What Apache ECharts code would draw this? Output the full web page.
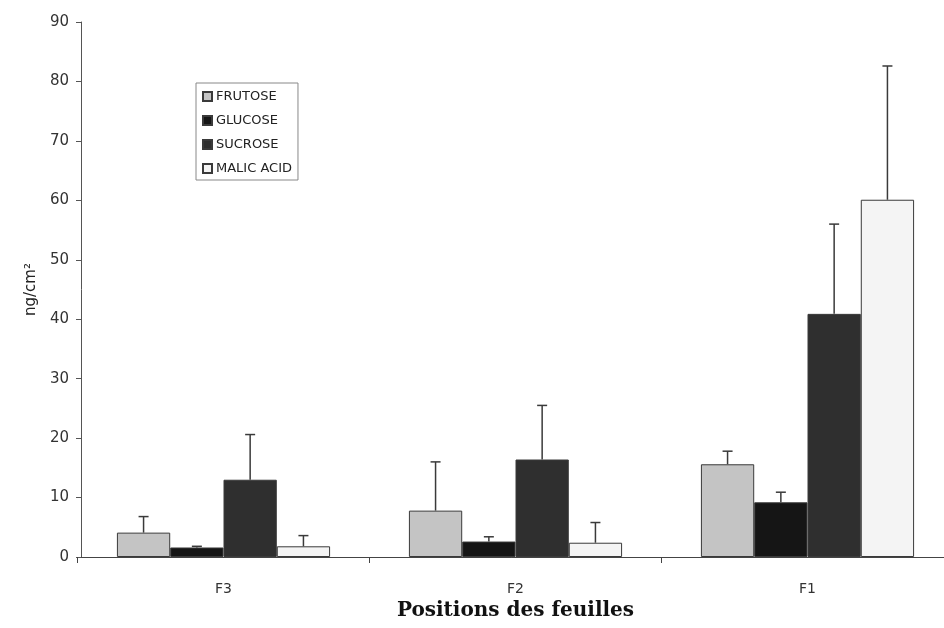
<!DOCTYPE html>
<html><head><meta charset="utf-8">
<script src="https://cdn.jsdelivr.net/npm/echarts@6/dist/echarts.min.js"></script>
<style>html,body{margin:0;padding:0;background:#fff}#c{width:944px;height:628px}</style>
</head><body><div id="c"></div>
<script>
var categories = ['F3', 'F2', 'F1'];
var seriesNames = ['FRUTOSE', 'GLUCOSE', 'SUCROSE', 'MALIC ACID'];
var frutose = [4.1, 7.8, 15.6];
var glucose = [1.6, 2.6, 9.2];
var sucrose = [13.0, 16.4, 40.9];
var malic = [1.8, 2.4, 60.1];
var frutoseErr = [6.8, 16.0, 17.8];
var glucoseErr = [1.8, 3.4, 10.9];
var sucroseErr = [20.6, 25.5, 56.0];
var malicErr = [3.6, 5.8, 82.6];
var yTicks = [0, 10, 20, 30, 40, 50, 60, 70, 80, 90];

var values = [frutose, glucose, sucrose, malic];
var errs = [frutoseErr, glucoseErr, sucroseErr, malicErr];
var colors = ['#c4c4c4', '#151515', '#2f2f2f', '#f4f4f4'];
var catGap = 0.27;

var errData = [];
for (var s = 0; s < 4; s++) {
  for (var i = 0; i < categories.length; i++) {
    errData.push([i, values[s][i], errs[s][i], s]);
  }
}

var series = seriesNames.map(function (n, s) {
  return {
    name: n, type: 'bar', data: values[s],
    barGap: '0%', barCategoryGap: (catGap * 100) + '%',
    itemStyle: { color: colors[s], borderColor: '#3a3a3a', borderWidth: 1 }
  };
});
series.push({
  type: 'custom', name: 'err', data: errData, z: 5,
  renderItem: function (params, api) {
    var ci = api.value(0), v = api.value(1), e = api.value(2), s = api.value(3);
    var band = api.size([1, 0])[0];
    var bw = band * (1 - catGap) / 4;
    var p0 = api.coord([ci, v]);
    var p1 = api.coord([ci, e]);
    var x = p0[0] + (s - 1.5) * bw;
    var st = { stroke: '#3a3a3a', lineWidth: 1.5 };
    return { type: 'group', children: [
      { type: 'line', shape: { x1: x, y1: p0[1], x2: x, y2: p1[1] }, style: st },
      { type: 'line', shape: { x1: x - 5, y1: p1[1], x2: x + 5, y2: p1[1] }, style: st }
    ]};
  }
});

var chart = echarts.init(document.getElementById('c'));
chart.setOption({
  animation: false,
  backgroundColor: '#fff',
  grid: { left: 77.5, width: 876, top: 22, bottom: 71, outerBoundsMode: 'none', containLabel: false },
  legend: {
    data: seriesNames, orient: 'vertical', left: 196, top: 83,
    icon: 'rect', itemWidth: 9, itemHeight: 9, itemGap: 11,
    padding: [7, 6, 5, 6],
    borderColor: '#888', borderWidth: 1,
    textStyle: { fontFamily: 'DejaVu Sans', fontSize: 13, color: '#222', padding: [0, 0, 0, -1] }
  },
  xAxis: {
    type: 'category', data: categories,
    axisLine: { lineStyle: { color: '#444', width: 1 } },
    axisTick: { show: true, length: 6, lineStyle: { color: '#444' } },
    axisLabel: { fontFamily: 'DejaVu Sans', fontSize: 14, color: '#333', margin: 25 },
    name: 'Positions des feuilles', nameLocation: 'middle', nameGap: 40,
    nameTextStyle: { fontFamily: 'DejaVu Serif', fontSize: 20, fontWeight: 'bold', color: '#111' }
  },
  yAxis: {
    type: 'value', min: 0, max: 90, interval: 10, offset: -3.5,
    axisLine: { show: true, lineStyle: { color: '#555', width: 1 } },
    axisTick: { show: true, length: 5, lineStyle: { color: '#555' } },
    splitLine: { show: false },
    axisLabel: { fontFamily: 'DejaVu Sans', fontSize: 15, color: '#333', margin: 12,
      formatter: function (v) { return yTicks.indexOf(v) >= 0 ? String(v) : ''; } },
    name: 'ng/cm²', nameLocation: 'middle', nameRotate: 90, nameGap: 42,
    nameTextStyle: { fontFamily: 'DejaVu Sans', fontSize: 15, color: '#222' }
  },
  series: series
});
</script></body></html>
